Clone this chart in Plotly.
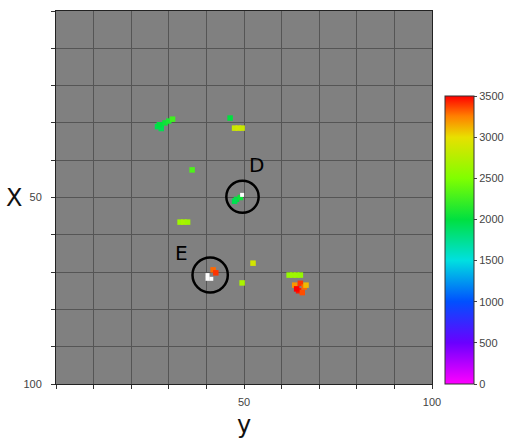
import plotly.graph_objects as go

# colored detections: y-axis position (horizontal), X position (vertical), value
pt_y = [27, 28, 29, 28, 30, 31, 27.5, 46.3, 47.5, 48.5, 49.5, 36.2, 48, 49, 47.5,
        33, 34, 35, 41.8, 42.5, 52.4, 49.5, 62, 63, 64, 65,
        63.5, 65, 66, 64.5, 65.5, 66.5, 64]
pt_x = [31, 30.5, 30, 31.5, 29.5, 29, 30.5, 28.7, 31.4, 31.4, 31.4, 42.6, 50.5, 50, 51,
        56.6, 56.6, 56.6, 69.4, 70.2, 67.6, 72.9, 70.8, 70.8, 70.8, 70.8,
        73.5, 73, 74, 75, 75.5, 73.5, 74.5]
pt_v = [1950, 2000, 2050, 1950, 2100, 2250, 2000, 2000, 2850, 2900, 2850, 2300, 2000, 2050, 1950,
        2650, 2700, 2650, 3300, 3400, 2900, 2700, 2600, 2650, 2650, 2600,
        3200, 3400, 3300, 3450, 3350, 3100, 3500]

# white (saturated) points
w_y = [49.5, 40.3, 40.3, 41.3]
w_x = [49.3, 70.8, 71.8, 71.8]

# circled regions
circ_label = ["D", "E"]
circ_cy = [49.6, 41.0]
circ_cx = [49.8, 70.8]
circ_r = [4.3, 4.7]
label_y = [53.2, 33.5]
label_x = [41.3, 64.9]

colorscale = [
    [0.0, "#ff00ff"], [0.143, "#6a00ff"], [0.286, "#0050ff"], [0.429, "#00e0e0"],
    [0.571, "#00e040"], [0.714, "#80ff00"], [0.857, "#e8e000"], [0.93, "#ff8000"],
    [1.0, "#ff0000"],
]

fig = go.Figure()
fig.add_trace(go.Scatter(
    x=pt_y, y=pt_x, mode="markers",
    marker=dict(symbol="square", size=5.5, color=pt_v, cmin=0, cmax=3500,
                colorscale=colorscale, line=dict(width=0),
                colorbar=dict(x=1.035, xanchor="left", y=0, yanchor="bottom",
                              len=0.772, lenmode="fraction", thickness=29,
                              xpad=0, ypad=0,
                              tickvals=[0, 500, 1000, 1500, 2000, 2500, 3000, 3500],
                              ticks="outside", ticklen=3, outlinewidth=1,
                              outlinecolor="#333",
                              tickfont=dict(size=11, color="#444",
                                            family="Liberation Sans"))),
    showlegend=False, hoverinfo="skip"))
fig.add_trace(go.Scatter(
    x=w_y, y=w_x, mode="markers",
    marker=dict(symbol="square", size=4, color="white"),
    showlegend=False, hoverinfo="skip"))

for i in range(len(circ_label)):
    fig.add_shape(type="circle", xref="x", yref="y",
                  x0=circ_cy[i] - circ_r[i], x1=circ_cy[i] + circ_r[i],
                  y0=circ_cx[i] - circ_r[i], y1=circ_cx[i] + circ_r[i],
                  line=dict(color="black", width=2.5))
    fig.add_annotation(x=label_y[i], y=label_x[i], text=circ_label[i], showarrow=False,
                       font=dict(size=20, color="black", family="DejaVu Sans"))

# axis titles
fig.add_annotation(xref="paper", yref="paper", x=0.5, y=-0.11, yanchor="middle",
                   text="y", showarrow=False,
                   font=dict(size=24, color="#111", family="DejaVu Sans"))
fig.add_annotation(xref="paper", yref="paper", x=-0.085, xanchor="right", y=0.5,
                   text="X", showarrow=False,
                   font=dict(size=24, color="#111", family="DejaVu Sans"))

ticks = list(range(0, 101, 10))
ticktext = ["50" if t == 50 else "100" if t == 100 else "" for t in ticks]

axis_common = dict(
    tickvals=ticks, ticktext=ticktext, showgrid=True, gridcolor="#555555", gridwidth=1,
    zeroline=False, showline=True, linecolor="#222", linewidth=1, mirror=True,
    ticks="outside", ticklen=4, tickcolor="#333", automargin=False,
    tickfont=dict(size=11, color="#444", family="Liberation Sans"),
)

fig.update_layout(
    width=518, height=441, autosize=False,
    margin=dict(l=56, r=86, t=11, b=57),
    paper_bgcolor="white", plot_bgcolor="#808080",
    xaxis=dict(range=[0, 100], ticklabelstandoff=4, **axis_common),
    yaxis=dict(range=[100, 0], ticklabelstandoff=7, **axis_common),
)

post = ("document.body.style.margin='0';document.body.style.overflow='hidden';"
        "var gd=document.getElementById('{plot_id}');"
        "Plotly.relayout(gd,{width:518,height:441});")
fig.write_html("out.html", config={"responsive": False, "displayModeBar": False},
               post_script=post)
